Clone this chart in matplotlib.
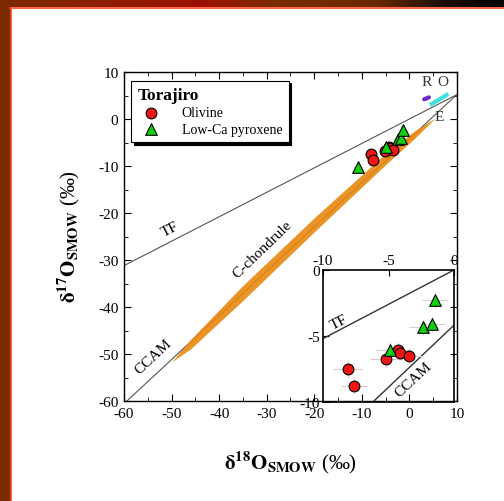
import numpy as np
import matplotlib.pyplot as plt
from matplotlib.colors import LinearSegmentedColormap
from matplotlib.patches import Rectangle

plt.rcParams['font.family'] = ['Liberation Serif', 'DejaVu Serif']
plt.rcParams['mathtext.fontset'] = 'stix'
plt.rcParams['axes.unicode_minus'] = False

# Torajiro data (delta18O, delta17O)
olv_x = [-8.1, -7.6, -5.2, -4.25, -4.1, -3.45]
olv_y = [-7.5, -8.75, -6.75, -6.05, -6.25, -6.5]
olv_xerr = [1.1, 1.0, 1.2, 1.0, 1.0, 1.0]
olv_yerr = [0.7, 0.6, 0.6, 0.6, 0.6, 0.6]
pyx_x = [-10.8, -4.85, -2.35, -1.7, -1.45]
pyx_y = [-10.2, -6.05, -4.35, -4.1, -2.25]
pyx_xerr = [1.0, 1.2, 1.1, 1.0, 1.0]
pyx_yerr = [0.6, 0.6, 0.6, 0.6, 0.6]

# reference lines
tf_slope, tf_icpt = 0.52, 0.0
ccam_slope, ccam_icpt = 0.94, -4.18

# C-chondrule band
band_x = [-50, -46, -35, -20, -5, 1, 5.5]
band_lo = [-51.7, -48.9, -38.6, -24.0, -9.7, -4.2, 0.3]
band_hi = [-51.7, -46.9, -35.4, -21.0, -7.3, -2.6, 0.3]

# R, O, E fields
r_x, r_y = [3.1, 4.1], [4.2, 4.6]
o_x, o_y = [4.7, 7.8], [3.2, 5.1]

fig = plt.figure(figsize=(5.04, 5.02), dpi=100)

# frame decoration
top = fig.add_axes([0, 1 - 8 / 502, 1, 8 / 502])
grad = LinearSegmentedColormap.from_list('g', [(0, '#7b2b03'), (0.4, '#9c1002'), (0.55, '#7a2c00'),
                                               (0.75, '#6a2800'), (0.87, '#201008'), (1, '#000000')])
top.imshow(np.linspace(0, 1, 256)[None, :], cmap=grad, aspect='auto', extent=[0, 1, 0, 1])
top.axis('off')
fig.patches.append(Rectangle((0, 0), 10 / 504, 1 - 8 / 502, transform=fig.transFigure,
                             color='#7b2b03', zorder=0))
fig.lines.append(plt.Line2D([10.5 / 504, 10.5 / 504], [0, 1 - 8.5 / 502], transform=fig.transFigure,
                            color='#ff4a1a', lw=1.2))
fig.lines.append(plt.Line2D([10 / 504, 1], [1 - 8.5 / 502, 1 - 8.5 / 502], transform=fig.transFigure,
                            color='#ff4a1a', lw=1.2))

ax = fig.add_axes([124 / 504, 1 - 402 / 502, 333 / 504, 329 / 502])
xx = np.array([-60, 10])
ax.plot(xx, tf_slope * xx + tf_icpt, color='#555555', lw=0.8)
ax.plot(xx, ccam_slope * xx + ccam_icpt, color='#555555', lw=0.8)
ax.fill_between(band_x, band_lo, band_hi, color='#e8870f', alpha=0.9, lw=0, zorder=3)
ax.plot(r_x, r_y, color='#6a2ccc', lw=3, solid_capstyle='round')
ax.plot(o_x, o_y, color='#40e0e0', lw=3)

ax.errorbar(olv_x, olv_y, xerr=olv_xerr, yerr=olv_yerr, fmt='none', ecolor='#e0caca', elinewidth=0.8, zorder=4)
ax.errorbar(pyx_x, pyx_y, xerr=pyx_xerr, yerr=pyx_yerr, fmt='none', ecolor='#e0caca', elinewidth=0.8, zorder=4)
ax.scatter(olv_x, olv_y, s=60, marker='o', c='#ee1515', edgecolors='black', linewidths=0.8,
           zorder=5, label='Olivine')
ax.scatter(pyx_x, pyx_y, s=70, marker='^', c='#10d010', edgecolors='black', linewidths=0.8,
           zorder=6, label='Low-Ca pyroxene')

ax.text(-50.3, -23.4, 'TF', rotation=27, fontsize=11, ha='center', va='center')
ax.text(-30.8, -27.6, 'C-chondrule', rotation=44, fontsize=11, ha='center', va='center')
ax.text(-53.9, -50.4, 'CCAM', rotation=43, fontsize=11, ha='center', va='center')
ax.text(3.7, 7.9, 'R', fontsize=11, ha='center', va='center', color='#333333')
ax.text(7.0, 7.9, 'O', fontsize=11, ha='center', va='center', color='#333333')
ax.text(6.3, 0.6, 'E', fontsize=11, ha='center', va='center', color='#333333')

ax.set_xlim(-60, 10)
ax.set_ylim(-60, 10)
ax.set_xticks(np.arange(-60, 11, 10))
ax.set_yticks(np.arange(-60, 11, 10))
ax.set_xticks(np.arange(-60, 11, 5), minor=True)
ax.set_yticks(np.arange(-60, 11, 5), minor=True)
ax.tick_params(which='both', direction='in', top=True, right=True, labelsize=11, pad=4)
ax.tick_params(which='major', length=5)
ax.tick_params(which='minor', length=3)
for s in ax.spines.values():
    s.set_linewidth(1.0)

leg = ax.legend(loc='upper left', bbox_to_anchor=(0.0, 0.995), title='Torajiro', fontsize=10,
                title_fontproperties={'weight': 'bold', 'size': 12.5}, frameon=True, fancybox=False,
                edgecolor='black', framealpha=1, alignment='left', handletextpad=1.2,
                borderpad=0.45, labelspacing=0.25, shadow={'color': 'black', 'alpha': 1})
leg.get_frame().set_linewidth(0.8)

fig.text(290 / 504, 1 - 463 / 502, r'$\mathbf{\delta^{18}O_{SMOW}}$ (‰)', fontsize=15,
         ha='center', va='center')
fig.text(69 / 504, 1 - 237 / 502, r'$\mathbf{\delta^{17}O_{SMOW}}$ (‰)', fontsize=15,
         ha='center', va='center', rotation=90)

# inset
ins = fig.add_axes([323 / 504, 1 - 403 / 502, 131 / 504, 132 / 502], facecolor='none')
xi = np.array([-10, 0])
ins.plot(xi, tf_slope * xi + tf_icpt, color='#333333', lw=1.0)
ins.plot(xi, ccam_slope * xi + ccam_icpt, color='#333333', lw=1.0)
ins.errorbar(olv_x, olv_y, xerr=olv_xerr, yerr=olv_yerr, fmt='none', ecolor='#e0caca', elinewidth=0.8)
ins.errorbar(pyx_x, pyx_y, xerr=pyx_xerr, yerr=pyx_yerr, fmt='none', ecolor='#e0caca', elinewidth=0.8)
ins.scatter(olv_x, olv_y, s=60, marker='o', c='#ee1515', edgecolors='black', linewidths=0.8, zorder=5)
ins.scatter(pyx_x, pyx_y, s=70, marker='^', c='#10d010', edgecolors='black', linewidths=0.8, zorder=6)
ins.text(-8.8, -3.9, 'TF', rotation=27, fontsize=11, ha='center', va='center')
ins.text(-3.1, -8.3, 'CCAM', rotation=43, fontsize=11, ha='center', va='center')
ins.set_xlim(-10, 0)
ins.set_ylim(-10, 0)
ins.set_xticks([-10, -5, 0])
ins.set_yticks([-10, -5, 0])
ins.xaxis.tick_top()
ins.tick_params(direction='in', length=4, labelsize=11, pad=2)
for s in ins.spines.values():
    s.set_linewidth(1.2)

fig.savefig('out.png', dpi=100)
